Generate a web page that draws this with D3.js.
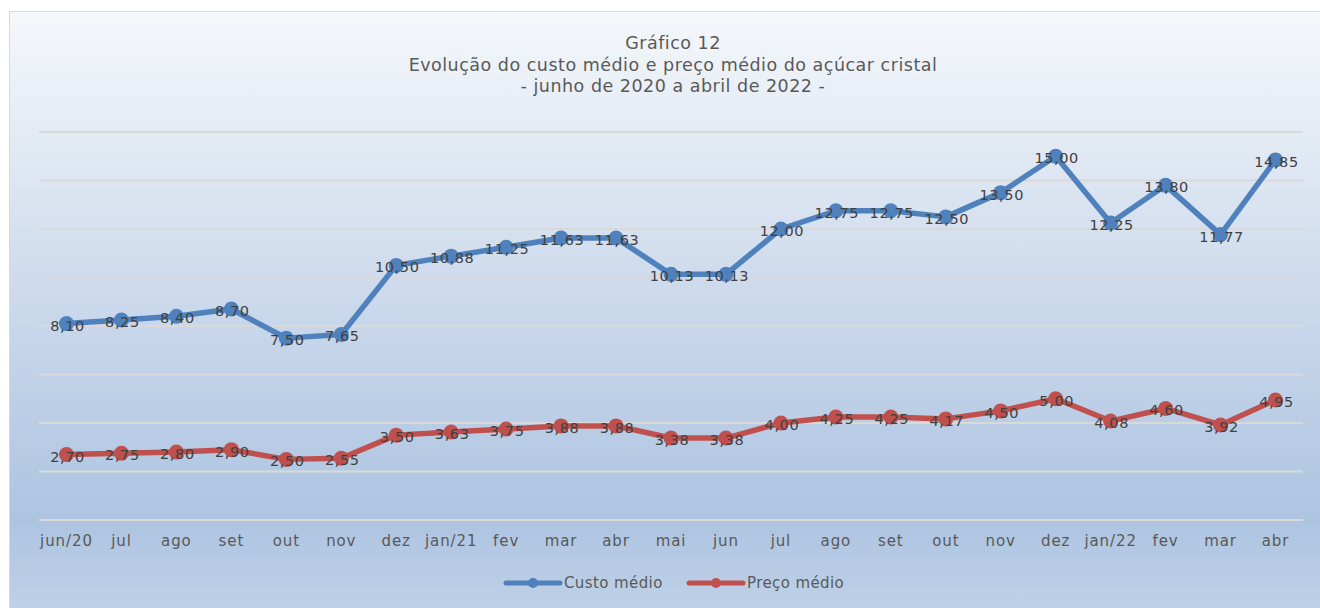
<!DOCTYPE html>
<html>
<meta charset="utf-8">
<head>
  <title>Gráfico 12</title>
</head>
<style>
body { margin: 0; background: #fff; }
text { font-family: "DejaVu Sans", Verdana, sans-serif; }
.grid line { stroke: #d9d9d9; stroke-width: 2; }
.axis text { fill: #595959; font-size: 15px; letter-spacing: 0.9px; }
.title { fill: #595959; font-size: 17.5px; letter-spacing: 0.5px; text-anchor: middle; }
.lbl { fill: #404040; font-size: 14.5px; letter-spacing: 0.6px; text-anchor: middle; }
.legend text { fill: #595959; font-size: 15px; letter-spacing: 0.4px; }
</style>
<body>
<svg width="1320" height="608"></svg>
<script src="https://cdnjs.cloudflare.com/ajax/libs/d3/7.8.5/d3.min.js"></script>
<script>
var width = 1320, height = 608

// categories
var months = ['jun/20','jul','ago','set','out','nov','dez','jan/21','fev','mar','abr','mai',
  'jun','jul','ago','set','out','nov','dez','jan/22','fev','mar','abr']
// series
var custo = [8.10, 8.25, 8.40, 8.70, 7.50, 7.65, 10.50, 10.88, 11.25, 11.63, 11.63, 10.13,
  10.13, 12.00, 12.75, 12.75, 12.50, 13.50, 15.00, 12.25, 13.80, 11.77, 14.85]
var preco = [2.70, 2.75, 2.80, 2.90, 2.50, 2.55, 3.50, 3.63, 3.75, 3.88, 3.88, 3.38,
  3.38, 4.00, 4.25, 4.25, 4.17, 4.50, 5.00, 4.08, 4.60, 3.92, 4.95]
var yTicks = [0, 2, 4, 6, 8, 10, 12, 14, 16]
var titleLines = ['Gráfico 12', 'Evolução do custo médio e preço médio do açúcar cristal', '- junho de 2020 a abril de 2022 -']

var series = [
  {name: 'Custo médio', values: custo, color: '#4f81bd'},
  {name: 'Preço médio', values: preco, color: '#c0504d'}
]

var svg = d3.select('svg')
var defs = svg.append('defs')
var grad = defs.append('linearGradient').attr('id', 'bg')
  .attr('x1', 0).attr('y1', 0).attr('x2', 0).attr('y2', 1)
grad.append('stop').attr('offset', '0%').attr('stop-color', '#f5f8fb')
grad.append('stop').attr('offset', '45%').attr('stop-color', '#cddaec')
grad.append('stop').attr('offset', '82%').attr('stop-color', '#adc4e1')
grad.append('stop').attr('offset', '100%').attr('stop-color', '#c3d4e9')

svg.append('rect')
  .attr('x', 9.5).attr('y', 11.5).attr('width', 1320).attr('height', 620)
  .attr('fill', 'url(#bg)').attr('stroke', '#d9d9d9')

var x = d3.scaleBand().domain(d3.range(months.length)).range([39, 1303])
var y = d3.scaleLinear().domain([0, 16]).range([520, 132])

// gridlines
svg.append('g').attr('class', 'grid')
  .selectAll('line').data(yTicks).enter().append('line')
  .attr('x1', 39).attr('x2', 1303)
  .attr('y1', function(d) { return y(d) })
  .attr('y2', function(d) { return y(d) })

// x axis labels
var xAxis = d3.axisBottom(x).tickSize(0).tickPadding(15)
  .tickFormat(function(i) { return months[i] })
var ax = svg.append('g').attr('class', 'axis')
  .attr('transform', 'translate(0,' + 520 + ')').call(xAxis)
ax.select('.domain').remove()
ax.attr('font-family', null).attr('font-size', null)

// title
svg.append('g').selectAll('text').data(titleLines).enter().append('text')
  .attr('class', 'title')
  .attr('x', 673)
  .attr('y', function(d, i) { return 49 + i * 21.5 })
  .text(function(d) { return d })

var line = d3.line()
  .x(function(d, i) { return x(i) + x.bandwidth() / 2 })
  .y(function(d) { return y(d) })

var fmt = function(v) { return d3.format('.2f')(v).replace('.', ',') }

series.forEach(function(s) {
  var g = svg.append('g')
  g.append('path').datum(s.values)
    .attr('d', line)
    .attr('fill', 'none')
    .attr('stroke', s.color)
    .attr('stroke-width', 5.5)
    .attr('stroke-linejoin', 'round')
  g.selectAll('circle').data(s.values).enter().append('circle')
    .attr('cx', function(d, i) { return x(i) + x.bandwidth() / 2 })
    .attr('cy', function(d) { return y(d) })
    .attr('r', 7.5)
    .attr('fill', s.color)
  g.selectAll('text').data(s.values).enter().append('text')
    .attr('class', 'lbl')
    .attr('x', function(d, i) { return x(i) + x.bandwidth() / 2 + 1 })
    .attr('y', function(d) { return y(d) + 7 })
    .text(fmt)
})

// legend
var leg = svg.append('g').attr('class', 'legend')
var legX = [506, 689]
series.forEach(function(s, i) {
  var lg = leg.append('g').attr('transform', 'translate(' + legX[i] + ',583)')
  lg.append('line').attr('x1', 0).attr('x2', 54).attr('y1', 0).attr('y2', 0)
    .attr('stroke', s.color).attr('stroke-width', 5).attr('stroke-linecap', 'round')
  lg.append('circle').attr('cx', 27).attr('cy', 0).attr('r', 5).attr('fill', s.color)
  lg.append('text').attr('x', 58).attr('y', 5).text(s.name)
})
</script>
</body>
</html>
